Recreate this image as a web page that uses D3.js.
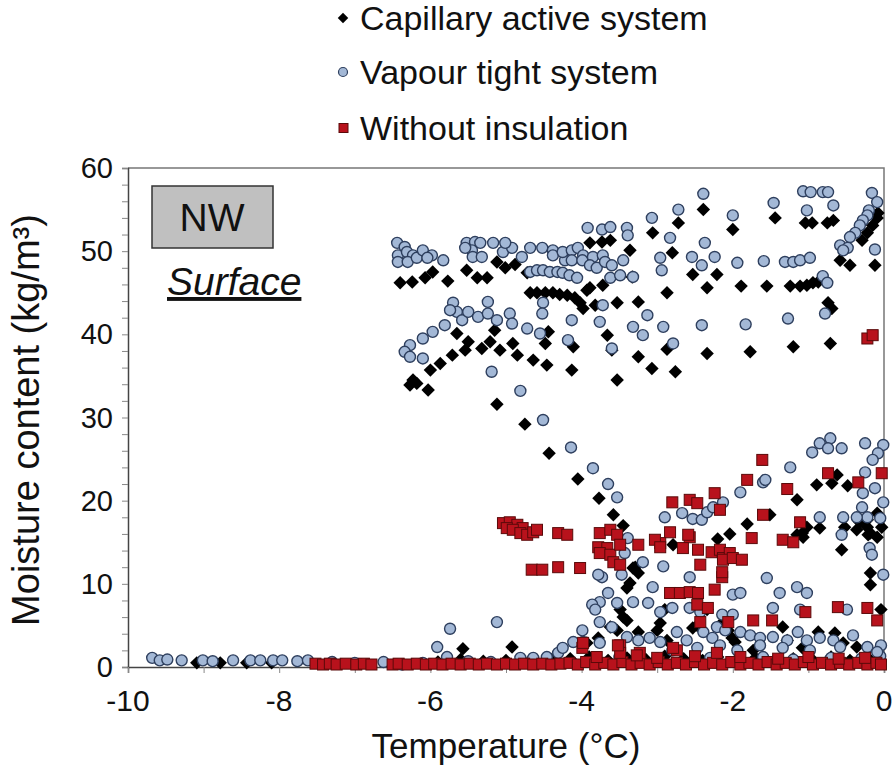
<!DOCTYPE html>
<html>
<head>
<meta charset="utf-8">
<script src="https://cdn.jsdelivr.net/npm/d3@7"></script>
<style>
  body { margin: 0; background: #fff; }
  svg text { font-family: "Liberation Sans", Arial, sans-serif; fill: #111; }
</style>
</head>
<body>
<div id="chart"></div>
<script>
// Series names (legend order)
var seriesNames = ['Capillary active system', 'Vapour tight system', 'Without insulation'];

// Tick labels
var xTicks = [-10, -8, -6, -4, -2, 0];
var yTicks = [0, 10, 20, 30, 40, 50, 60];

// Capillary active system: [temperature, moisture]
var capillary = [
  [-9.09,0.5],[-8.78,0.5],[-8.43,0.5],[-8.10,0.5],[-5.57,2.2],[-4.92,2.4],
  [-5.9,0.6],[-5.6,0.9],[-5.3,0.7],[-5.0,0.8],[-4.7,0.6],[-4.4,0.9],[-4.15,1.0],[-3.9,1.2],
  [-3.65,0.8],[-3.4,1.1],[-3.15,0.9],[-2.9,1.3],[-2.65,1.0],[-2.4,0.8],[-2.2,1.2],[-1.95,0.9],
  [-1.7,1.1],[-1.45,0.8],[-1.2,1.0],[-0.95,0.9],[-0.7,1.2],[-0.45,0.8],[-0.2,1.0],[-0.05,0.7],
  [-6.40,46.2],[-6.24,46.3],[-6.07,46.8],[-5.97,47.5],[-5.77,46.4],[-5.52,47.7],[-5.38,46.8],
  [-5.25,46.8],[-5.12,48.7],[-5.01,48.0],[-4.88,48.4],[-4.72,47.4],
  [-4.68,45.0],[-4.59,45.0],[-4.48,45.0],[-4.38,45.0],[-4.29,44.8],[-4.19,44.7],[-4.09,44.4],
  [-4.02,43.8],[-3.98,43.1],
  [-3.89,51.0],[-3.73,51.1],[-3.62,51.3],[-3.36,50.1],[-3.89,45.6],[-3.72,45.9],[-3.53,43.8],
  [-3.25,43.9],[-3.33,46.9],[-3.06,52.2],[-2.87,45.0],[-3.82,43.5],[-3.93,45.3],
  [-2.72,53.4],[-2.39,55.0],[-2.80,49.8],[-2.53,47.2],[-2.21,47.2],[-2.34,45.6],
  [-2.00,52.6],[-1.89,45.8],[-1.55,45.8],[-1.44,54.0],[-1.24,45.8],[-1.11,45.8],[-1.02,45.9],
  [-0.94,46.2],[-0.87,46.3],[-1.04,53.4],[-0.95,53.4],[-0.75,53.4],[-0.67,53.7],[-0.74,43.8],
  [-0.69,43.1],[-0.58,48.9],[-0.45,48.3],[-0.29,51.3],[-0.22,52.2],[-0.15,53.1],[-0.09,54.0],
  [-0.08,54.6],[-0.12,48.3],
  [-2.87,38.2],[-2.76,35.5],[-2.34,37.7],[-1.77,37.9],[-1.20,38.5],[-0.71,38.9],
  [-5.65,40.1],[-5.50,39.1],[-5.54,38.1],[-5.71,37.5],[-5.87,36.5],[-6.00,35.7],[-6.23,34.5],
  [-6.27,33.9],[-6.18,34.1],[-6.03,33.3],[-5.32,38.3],[-5.21,39.1],[-5.15,40.5],[-5.08,38.1],
  [-4.91,38.9],[-4.85,37.5],[-4.64,36.9],[-4.46,36.3],[-4.48,38.9],[-4.44,40.3],[-4.11,38.5],
  [-4.13,35.7],[-3.66,39.9],[-3.60,38.1],[-3.53,34.5],[-3.25,37.3],[-3.07,35.9],
  [-5.12,31.6],[-4.75,29.2],[-4.43,25.7],[-4.05,22.6],[-3.77,20.3],[-3.58,18.3],[-3.45,17.0],
  [-3.29,12.0],[-2.79,14.7],
  [-2.04,16.0],[-1.81,17.2],[-1.51,18.3],[-1.15,20.1],[-0.89,21.9],[-0.69,22.1],[-0.62,23.1],
  [-0.48,21.8],[-0.85,16.7],[-0.56,14.1],[-0.52,16.8],[-0.32,17.4],[-0.22,16.8],[-0.18,16.1],
  [-0.09,18.5],[-0.03,16.8],[-1.08,16.1],[-1.02,16.8],[-2.20,15.4],[-0.18,11.3],[-0.36,16.5],
  [-0.21,15.9],[-0.09,15.6],[-1.15,15.9],[-1.07,15.6],[-0.22,17.7],
  [-3.32,11.9],[-3.25,11.3],[-3.36,10.1],[-3.40,9.5],[-3.49,6.9],[-3.45,6.0],[-3.40,5.6],
  [-3.62,4.8],[-3.53,4.4],[-3.25,4.2],[-3.00,4.4],[-2.96,5.3],[-2.90,6.9],[-2.53,4.7],
  [-2.47,5.0],[-2.34,6.9],[-2.13,5.4],[-2.06,4.4],[-2.01,3.5],[-1.97,3.0],[-1.73,2.0],
  [-1.34,4.8],[-1.28,3.2],[-1.08,2.3],[-0.87,4.2],[-0.65,4.1],[-0.54,2.9],[-0.18,9.9],
  [-0.04,6.9],[-2.87,3.2],[-3.78,3.5],[-3.93,2.9],[-0.36,2.4]
];

// Vapour tight system: [temperature, moisture]
var vapour = [
  [-9.68,1.1],[-9.58,0.8],[-9.48,0.9],[-9.29,0.8],[-9.01,0.8],[-8.88,0.7],[-8.61,0.8],
  [-8.38,0.8],[-8.25,0.8],[-8.08,0.8],[-7.96,0.8],[-7.76,0.7],[-7.62,0.8],[-7.30,0.6],
  [-7.00,0.5],[-6.62,0.6],[-6.38,0.3],[-5.91,2.4],[-5.74,4.6],[-5.78,1.2],[-5.12,5.4],
  [-6.1,0.5],[-5.5,0.7],[-5.2,0.6],[-4.81,1.1],[-4.64,1.1],[-4.46,1.2],[-4.31,1.7],[-4.25,2.3],
  [-4.11,3.0],[-3.5,1.2],[-3.0,1.0],[-2.3,1.1],[-1.6,1.2],[-1.2,0.9],[-0.7,1.1],[-0.3,1.0],
  [-0.05,1.3],
  [-6.44,51.0],[-6.34,50.5],[-6.43,49.5],[-6.43,48.7],[-6.31,49.9],[-6.23,49.5],[-6.30,48.7],
  [-6.18,49.2],[-6.10,50.1],[-5.98,49.5],[-5.83,48.9],[-6.04,49.2],
  [-5.52,51.0],[-5.41,51.1],[-5.34,51.0],[-5.45,50.1],[-5.44,49.3],[-5.32,49.3],[-5.54,50.4],
  [-5.17,51.0],[-5.04,49.9],[-4.92,50.4],[-5.01,51.0],[-4.79,49.3],[-4.68,50.4],[-4.52,50.4],
  [-4.38,50.1],[-4.38,49.5],[-4.22,48.9],[-4.25,49.9],[-4.13,50.1],[-4.05,50.4],[-3.98,49.5],
  [-4.13,48.9],[-3.99,48.9],[-3.85,49.3],[-3.72,49.5],[-3.89,48.3],[-3.80,48.0],[-3.69,48.7],
  [-3.60,48.3],[-3.45,48.9],[-3.32,46.9],[-3.62,46.8],[-3.49,47.1],[-3.40,52.8],[-3.39,51.9],
  [-3.92,52.8],[-3.73,52.6],[-3.62,52.9],
  [-4.68,47.5],[-4.59,47.7],[-4.51,47.7],[-4.42,47.5],[-4.32,47.5],[-4.25,47.4],[-4.16,47.1],
  [-4.06,46.8],
  [-5.70,43.8],[-5.65,42.7],[-5.58,41.7],[-5.74,42.9],[-5.50,42.7],[-5.37,42.1],[-5.24,43.9],
  [-5.24,42.5],[-5.12,41.7],[-4.95,42.5],[-4.92,41.3],[-4.72,40.7],[-4.55,40.1],[-4.51,43.8],
  [-4.52,42.5],[-4.13,41.7],[-4.18,39.3],[-3.72,43.5],[-3.76,41.5],[-3.60,38.3],[-3.32,40.9],
  [-3.13,42.3],[-3.19,39.9],[-6.10,39.5],[-5.97,40.3],[-5.81,41.1],[-6.27,38.7],[-6.34,37.9],
  [-6.27,37.3],[-6.10,37.1],
  [-5.19,35.5],[-4.81,33.2],[-4.51,29.7],[-4.14,26.4],[-3.85,23.9],[-3.65,22.0],[-3.53,20.4],
  [-2.90,18.0],
  [-2.39,56.9],[-2.72,55.0],[-2.00,54.3],[-1.46,55.8],[-1.07,57.2],[-0.97,57.1],[-0.81,57.1],
  [-0.74,57.1],[-1.02,54.9],[-0.67,55.5],[-0.16,57.0],[-0.09,55.9],[-0.20,54.9],[-0.22,54.3],
  [-0.28,53.7],[-0.32,53.1],[-0.38,52.2],[-0.45,51.7],[-0.58,50.7],[-0.48,50.4],[-0.54,50.1],
  [-0.12,50.2],[-2.83,51.6],[-2.96,49.2],[-2.94,47.7],[-2.54,49.3],[-2.41,48.3],[-2.24,49.3],
  [-2.37,51.0],[-1.94,48.6],[-1.59,48.8],[-1.31,48.7],[-1.20,48.7],[-1.11,48.9],[-0.98,49.2],
  [-0.81,47.0],[-0.75,46.2],[-0.78,42.5],[-1.27,41.9],[-1.83,41.2],[-2.41,41.1],[-2.92,40.9],
  [-2.79,38.9],[-3.07,54.0],
  [-0.95,25.8],[-0.85,26.9],[-0.71,27.5],[-0.74,26.3],[-0.56,26.3],[-0.25,26.9],[-0.01,26.7],
  [-0.08,25.7],[-0.15,24.9],[-1.24,24.0],[-1.60,22.2],[-1.90,21.0],[-0.25,23.4],[-0.12,21.5],
  [-0.28,20.9],[-0.01,19.8],[-0.29,19.2],[-0.22,18.0],[-0.36,18.0],[-0.54,18.0],[-0.85,18.0],
  [-0.56,15.9],[-0.19,14.3],[-0.16,13.5],[-0.05,17.9],[-0.01,11.1],[-1.55,10.7],
  [-2.67,18.5],[-2.53,17.8],[-2.41,17.7],[-2.34,18.6],[-2.26,19.2],[-2.13,19.8],
  [-3.39,15.5],[-3.43,13.7],[-3.19,12.6],[-2.92,12.1],[-3.73,10.8],[-3.47,11.1],[-3.06,9.6],
  [-2.57,10.8],[-1.57,22.5],
  [-3.78,11.1],[-2.00,8.7],[-1.90,8.9],[-1.38,8.9],[-1.15,9.6],[-1.02,8.9],[-3.65,8.9],
  [-3.76,7.8],[-3.86,7.5],[-3.82,6.9],[-3.53,7.7],[-3.32,7.8],[-3.12,7.7],[-2.96,6.6],
  [-2.80,7.1],[-2.57,7.1],[-2.43,6.6],[-2.14,6.3],[-2.00,6.3],[-1.47,7.1],[-1.11,6.9],
  [-0.49,6.9],[-3.76,5.4],[-3.60,4.8],[-3.99,4.4],[-3.98,3.0],[-3.76,2.9],[-3.40,3.6],
  [-3.25,3.2],[-3.10,3.5],[-2.74,4.2],[-2.61,3.2],[-2.39,4.2],[-2.27,3.5],[-2.21,4.8],
  [-2.10,4.4],[-1.90,4.2],[-1.77,3.8],[-1.64,3.5],[-1.47,3.6],[-1.28,3.2],[-1.14,4.2],
  [-1.02,3.2],[-0.85,3.5],[-0.67,3.2],[-0.41,3.8],[-0.22,2.4],[-0.04,2.6],[-2.96,3.0],
  [-2.80,2.0],[-2.47,2.3],[-2.17,2.6],[-1.94,2.0],[-1.64,2.6],[-1.34,2.3],[-0.98,2.0],
  [-0.58,2.4],[-0.09,1.8]
];

// Without insulation: [temperature, moisture]
var without = [
  [-7.52,0.4],[-7.42,0.3],[-7.33,0.4],[-7.24,0.3],[-7.12,0.4],[-6.98,0.3],[-6.88,0.4],
  [-6.78,0.3],[-6.50,0.3],[-6.42,0.4],[-6.30,0.3],[-6.18,0.4],[-6.06,0.3],
  [-5.95,0.4],[-5.84,0.3],[-5.72,0.4],[-5.60,0.3],[-5.48,0.4],[-5.36,0.3],[-5.25,0.4],
  [-5.12,0.3],[-5.00,0.4],[-4.88,0.3],[-4.76,0.4],[-4.64,0.3],[-4.52,0.4],[-4.40,0.3],
  [-4.28,0.4],[-4.16,0.5],[-4.05,0.3],[-3.94,0.6],[-3.82,0.3],[-3.70,0.5],[-3.58,0.3],
  [-3.46,0.6],[-3.34,0.3],[-3.22,0.5],[-3.10,0.3],[-2.98,0.6],[-2.86,0.3],[-2.74,0.5],
  [-2.62,0.3],[-2.50,0.6],[-2.38,0.3],[-2.26,0.5],[-2.14,0.3],[-2.02,0.6],[-1.90,0.3],
  [-1.78,0.5],[-1.66,0.3],[-1.54,0.6],[-1.42,0.3],[-1.30,0.5],[-1.18,0.3],[-1.06,0.6],
  [-0.94,0.3],[-0.82,0.5],[-0.70,0.3],[-0.58,0.5],[-0.46,0.3],[-0.34,0.5],[-0.22,0.3],
  [-0.10,0.5],[-0.04,0.3],
  [-3.99,2.3],[-3.98,2.9],[-3.49,2.6],[-3.49,1.7],[-3.23,1.7],[-2.74,2.0],[-2.21,1.7],
  [-3.27,1.4],[-2.79,2.3],[-3.8,1.2],[-3.0,1.1],[-2.5,1.3],[-1.9,1.2],[-1.4,1.0],[-1.0,1.2],
  [-0.6,1.0],[-0.25,1.1],
  [-0.22,39.5],[-0.15,39.9],
  [-5.04,17.3],[-4.95,17.4],[-4.85,17.1],[-4.78,16.7],[-4.99,16.7],[-4.91,16.5],[-4.81,16.1],
  [-4.72,15.9],[-4.64,16.2],[-4.59,16.5],[-4.31,16.1],[-4.19,15.9],[-2.80,19.8],[-2.83,16.2],
  [-3.76,16.1],[-3.62,16.5],[-3.53,15.9],[-3.78,14.4],[-3.66,14.3],[-3.76,13.7],[-3.62,13.5],
  [-3.49,14.7],[-3.25,14.7],[-2.96,14.9],[-3.58,12.6],[-3.49,12.3],[-4.66,11.7],[-4.52,11.7],
  [-4.31,12.0],[-4.02,11.9],
  [-2.57,20.1],[-2.47,19.7],[-2.24,20.9],[-2.17,18.9],[-2.57,15.6],[-3.03,15.3],[-2.96,14.4],
  [-2.66,14.3],[-2.46,14.1],[-2.28,13.8],[-2.17,14.1],[-2.43,12.3],[-2.13,13.1],[-2.04,13.7],
  [-2.14,10.8],
  [-1.61,24.9],[-1.81,22.5],[-1.28,21.4],[-1.60,18.3],[-1.11,17.4],[-1.75,15.5],[-1.34,15.3],
  [-1.20,15.0],[-0.74,23.3],[-0.34,22.2],[-0.03,23.3],[-2.59,15.9],[-2.13,12.9],[-2.00,13.1],
  [-1.88,12.9],[-2.14,11.4],
  [-0.61,7.2],[-0.22,7.1],[-0.09,5.6],[-1.04,6.6],[-1.73,5.6],[-1.48,5.6],[-2.24,9.3],
  [-2.83,8.9],[-2.70,8.9],[-2.57,9.0],[-2.46,8.9],[-2.47,7.5],[-2.33,7.1],[-2.06,5.4],
  [-2.43,5.4],[-3.52,2.6]
];

var width = 894,
    height = 772;

var svg = d3.select('#chart')
  .append('svg')
    .attr('width', width)
    .attr('height', height);

var x = d3.scaleLinear().domain([-10, 0]).range([128, 884]);
var y = d3.scaleLinear().domain([0, 60]).range([667, 168]);

// Plot frame (top and right)
svg.append('path')
  .attr('d', 'M' + x(-10) + ',' + y(60) + 'H' + x(0) + 'V' + y(0))
  .attr('fill', 'none')
  .attr('stroke', '#777')
  .attr('stroke-width', 1.5);

// Y axis with minor ticks every 2
svg.append('g')
  .attr('transform', 'translate(' + x(-10) + ',0)')
  .call(d3.axisLeft(y).tickValues(d3.range(0, 61, 2)).tickSize(6).tickFormat(''))
  .call(function(g){
    g.select('.domain').attr('stroke', '#444').attr('stroke-width', 1.5);
    g.selectAll('.tick line').attr('stroke', '#888');
  });

svg.append('g')
  .selectAll('text')
  .data(yTicks)
  .enter()
    .append('text')
      .attr('x', 113)
      .attr('y', function(d){ return y(d) + 10; })
      .attr('text-anchor', 'end')
      .style('font-size', '29px')
      .text(function(d){ return d; });

// X axis with minor ticks every 1
svg.append('g')
  .attr('transform', 'translate(0,' + y(0) + ')')
  .call(d3.axisBottom(x).tickValues(d3.range(-10, 1, 1)).tickSize(6).tickFormat(''))
  .call(function(g){
    g.select('.domain').attr('stroke', '#444').attr('stroke-width', 1.5);
    g.selectAll('.tick line').attr('stroke', '#888');
  });

svg.append('g')
  .selectAll('text')
  .data(xTicks)
  .enter()
    .append('text')
      .attr('x', function(d){ return x(d); })
      .attr('y', 711)
      .attr('text-anchor', 'middle')
      .style('font-size', '30px')
      .text(function(d){ return d; });

// Axis titles
svg.append('text')
  .attr('x', 506)
  .attr('y', 758)
  .attr('text-anchor', 'middle')
  .style('font-size', '35px')
  .text('Temperature (°C)');

svg.append('text')
  .attr('transform', 'translate(39,' + 420 + ') rotate(-90)')
  .attr('text-anchor', 'middle')
  .style('font-size', '38px')
  .text('Moisture content (kg/m³)');

// Marker shapes (symbolDiamond2 is already a rotated square)
var diamond = d3.symbol().type(d3.symbolDiamond2).size(115);

function drawDiamonds(data){
  svg.append('g')
    .selectAll('path')
    .data(data)
    .enter()
      .append('path')
        .attr('d', diamond)
        .attr('transform', function(d){ return 'translate(' + x(d[0]) + ',' + y(d[1]) + ')'; })
        .attr('fill', '#000');
}

function drawCircles(data){
  svg.append('g')
    .selectAll('circle')
    .data(data)
    .enter()
      .append('circle')
        .attr('cx', function(d){ return x(d[0]); })
        .attr('cy', function(d){ return y(d[1]); })
        .attr('r', 5.5)
        .attr('fill', '#a3b8d6')
        .attr('stroke', '#2e3f5e')
        .attr('stroke-width', 1.4);
}

function drawSquares(data){
  svg.append('g')
    .selectAll('rect')
    .data(data)
    .enter()
      .append('rect')
        .attr('x', function(d){ return x(d[0]) - 5.5; })
        .attr('y', function(d){ return y(d[1]) - 5.5; })
        .attr('width', 11)
        .attr('height', 11)
        .attr('fill', '#b8121c')
        .attr('stroke', '#5a0a0a')
        .attr('stroke-width', 1);
}

drawDiamonds(capillary);
drawCircles(vapour);
drawSquares(without);

// NW label box
svg.append('rect')
  .attr('x', 152)
  .attr('y', 186)
  .attr('width', 121)
  .attr('height', 62)
  .attr('fill', '#c0c0c0')
  .attr('stroke', '#333')
  .attr('stroke-width', 1.5);

svg.append('text')
  .attr('x', 212)
  .attr('y', 231)
  .attr('text-anchor', 'middle')
  .style('font-size', '39px')
  .text('NW');

svg.append('text')
  .attr('x', 167)
  .attr('y', 295)
  .style('font-size', '39px')
  .style('font-style', 'italic')
  .style('text-decoration', 'underline')
  .text('Surface');

// Legend
var legend = svg.append('g');
var legendY = [18, 72, 128];

legend.append('path')
  .attr('d', d3.symbol().type(d3.symbolDiamond2).size(70))
  .attr('transform', 'translate(343,' + legendY[0] + ')')
  .attr('fill', '#000');

legend.append('circle')
  .attr('cx', 343)
  .attr('cy', legendY[1])
  .attr('r', 4.5)
  .attr('fill', '#a3b8d6')
  .attr('stroke', '#2e3f5e')
  .attr('stroke-width', 1.2);

legend.append('rect')
  .attr('x', 339)
  .attr('y', legendY[2] - 4.5)
  .attr('width', 9)
  .attr('height', 9)
  .attr('fill', '#b8121c')
  .attr('stroke', '#5a0a0a');

legend.selectAll('text')
  .data(seriesNames)
  .enter()
    .append('text')
      .attr('x', 360)
      .attr('y', function(d, i){ return legendY[i] + 12; })
      .style('font-size', '34px')
      .text(function(d){ return d; });
</script>
</body>
</html>
